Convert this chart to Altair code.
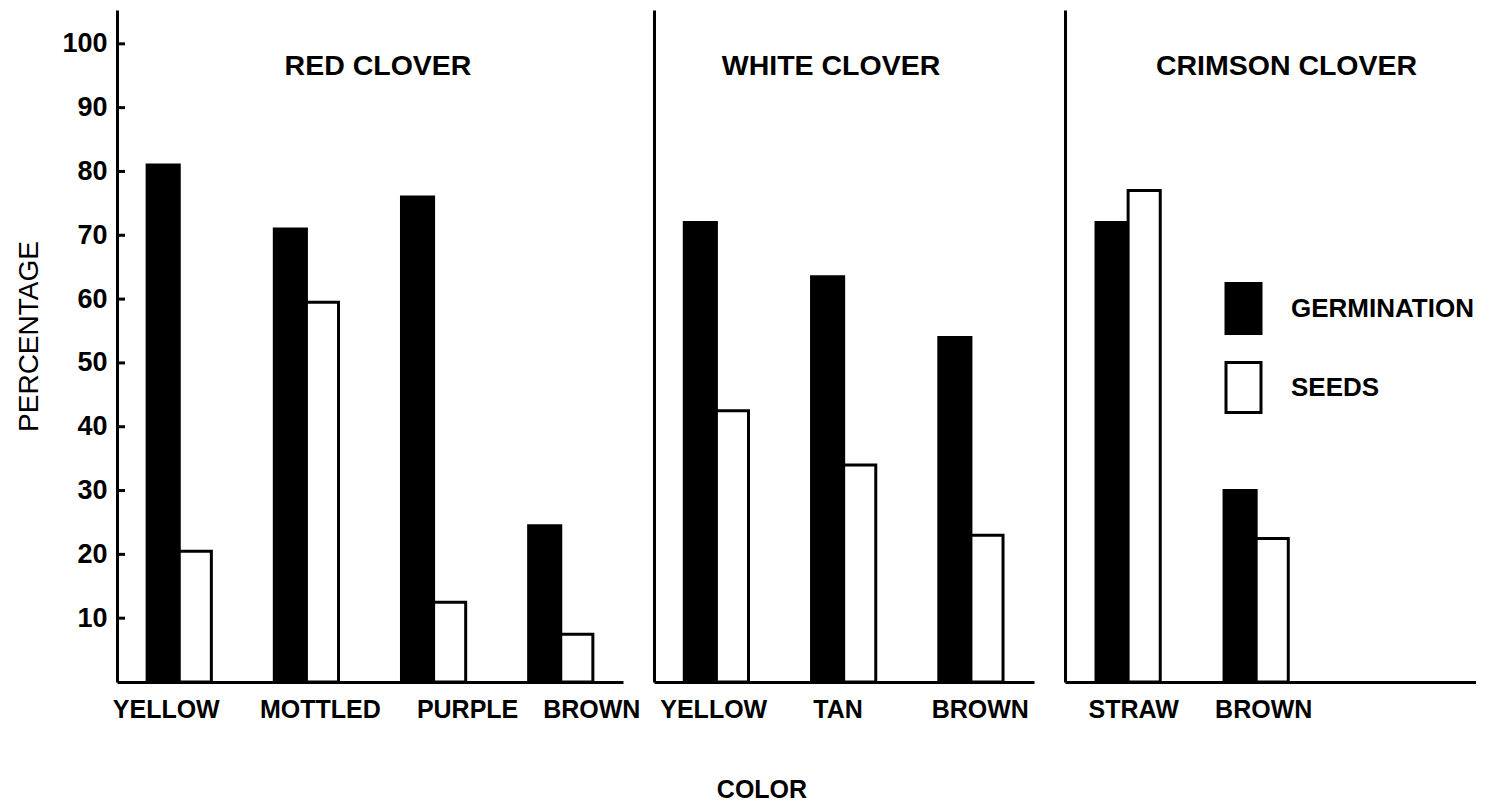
import altair as alt
import pandas as pd

red_colors = ["YELLOW", "MOTTLED", "PURPLE", "BROWN"]
red_germ = [81, 71, 76, 24.5]
red_seeds = [20.5, 59.5, 12.5, 7.5]

white_colors = ["YELLOW", "TAN", "BROWN"]
white_germ = [72, 63.5, 54]
white_seeds = [42.5, 34, 23]

crimson_colors = ["STRAW", "BROWN"]
crimson_germ = [72, 30]
crimson_seeds = [77, 22.5]

types = ["GERMINATION", "SEEDS"]
y_ticks = [10, 20, 30, 40, 50, 60, 70, 80, 90, 100]

FONT = "Liberation Sans"
YMAX = 105.3
H = 672


def make_df(colors, germ, seeds):
    rows = []
    for c, g, s in zip(colors, germ, seeds):
        rows.append({"color": c, "type": types[0], "pct": g})
        rows.append({"color": c, "type": types[1], "pct": s})
    return pd.DataFrame(rows)


def offsets(mapping):
    conds = [{"test": f"datum.value === '{k}'", "value": v} for k, v in mapping.items()]
    return {"condition": conds, "value": 0}


def panel(colors, germ, seeds, width, pi, po, align, title, tdx,
          show_y=False, legend=None, label_offset=None):
    df = make_df(colors, germ, seeds)
    y_axis = alt.Axis(
        title="PERCENTAGE" if show_y else None,
        values=y_ticks,
        labels=show_y,
        ticks=False,
        grid=False,
        domainColor="black",
        domainWidth=3,
        labelFont=FONT,
        labelFontSize=27,
        labelFontWeight="bold",
        labelColor="black",
        labelPadding=10,
        titleFont=FONT,
        titleFontSize=28,
        titleFontWeight="normal",
        titleColor="black",
        titlePadding=18,
        titleY=326,
    )
    x_axis_kw = dict(
        title=None,
        labelAngle=0,
        ticks=False,
        domainColor="black",
        domainWidth=3,
        labelFont=FONT,
        labelFontSize=25,
        labelFontWeight="bold",
        labelColor="black",
        labelPadding=15,
    )
    if label_offset is not None:
        x_axis_kw["labelOffset"] = label_offset
    yscale = alt.Scale(domain=[0, YMAX], nice=False)
    bars = alt.Chart(df).mark_bar(stroke="black", strokeWidth=3).encode(
        x=alt.X("color:N", sort=colors,
                scale=alt.Scale(paddingInner=pi, paddingOuter=po, align=align),
                axis=alt.Axis(**x_axis_kw)),
        xOffset=alt.XOffset("type:N", sort=types,
                            scale=alt.Scale(paddingInner=0, paddingOuter=0)),
        y=alt.Y("pct:Q", scale=yscale, axis=y_axis),
        fill=alt.Fill("type:N", sort=types,
                      scale=alt.Scale(domain=types, range=["black", "white"]),
                      legend=legend),
    )
    layers = [bars]
    if show_y:
        tdf = pd.DataFrame({"pct": y_ticks})
        ticks = alt.Chart(tdf).mark_rule(color="black", strokeWidth=3).encode(
            y=alt.Y("pct:Q", scale=yscale, axis=y_axis),
            x=alt.value(0),
            x2=alt.value(8),
        )
        layers.append(ticks)
    return alt.layer(*layers).properties(
        width=width,
        height=H,
        title=alt.TitleParams(title, anchor="middle", offset=-70, dx=tdx,
                              font=FONT, fontSize=28.5, fontWeight="bold", color="black"),
    )


legend = alt.Legend(
    title=None,
    orient="none",
    legendX=152,
    legendY=272,
    symbolType="M-0.7,-1H0.7V1H-0.7Z",
    symbolSize=2500,
    symbolStrokeColor="black",
    symbolStrokeWidth=3,
    labelFont=FONT,
    labelFontSize=26,
    labelFontWeight="bold",
    labelColor="black",
    labelOffset=21,
    labelLimit=0,
    rowPadding=16,
    padding=0,
)

red = panel(red_colors, red_germ, red_seeds, 506, 0.495, 0.237, 0.5,
            "RED CLOVER", 8, show_y=True,
            label_offset=offsets({"YELLOW": -13, "MOTTLED": 14, "PURPLE": 34, "BROWN": 31}))
white = panel(white_colors, white_germ, white_seeds, 380, 0.49, 0.238, 0.5,
              "WHITE CLOVER", -13,
              label_offset=offsets({"YELLOW": -3, "TAN": -6, "BROWN": 9}))
crimson = panel(crimson_colors, crimson_germ, crimson_seeds, 411, 0.49, 0.85, 0.1425,
                "CRIMSON CLOVER", 16, legend=legend,
                label_offset=offsets({"STRAW": 5, "BROWN": 7}))

chart = alt.hconcat(red, white, crimson, spacing=31, bounds="flush").resolve_scale(
    x="independent", y="independent", fill="independent"
).resolve_legend(fill="independent").properties(
    title=alt.TitleParams("COLOR", orient="bottom", anchor="middle", offset=56, dx=16,
                          font=FONT, fontSize=25, fontWeight="bold", color="black"),
    padding={"left": 7, "top": 2, "right": 0, "bottom": 5},
    background="white",
).configure_view(stroke=None)

chart.save("out.html", embed_options={"renderer": "svg", "actions": False})
